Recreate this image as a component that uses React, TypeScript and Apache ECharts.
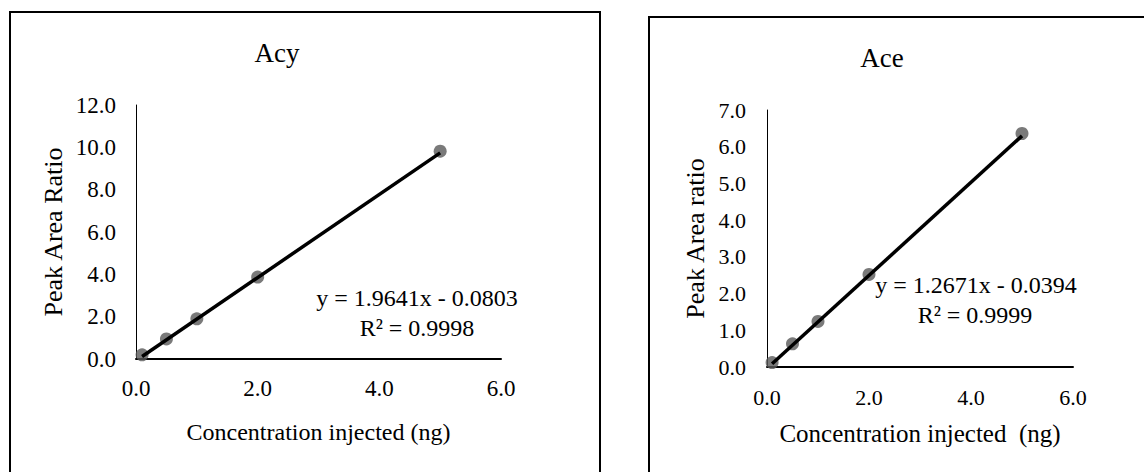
import React, { useEffect, useRef } from "react";
import * as echarts from "echarts";

// Acy calibration
const acyX = [0.1, 0.5, 1.0, 2.0, 5.0];
const acyY = [0.2, 0.95, 1.9, 3.87, 9.82];
const acySlope = 1.9641;
const acyIntercept = -0.0803;
const acyEq = "y = 1.9641x - 0.0803";
const acyR2 = "R² = 0.9998";

// Ace calibration
const aceX = [0.1, 0.5, 1.0, 2.0, 5.0];
const aceY = [0.12, 0.63, 1.24, 2.52, 6.36];
const aceSlope = 1.2671;
const aceIntercept = -0.0394;
const aceEq = "y = 1.2671x - 0.0394";
const aceR2 = "R² = 0.9999";

const FONT = "Liberation Serif, serif";

function trend(xs: number[], m: number, b: number) {
  const x0 = Math.min(...xs);
  const x1 = Math.max(...xs);
  return [
    [x0, m * x0 + b],
    [x1, m * x1 + b],
  ];
}

export default function App() {
  const ref = useRef<HTMLDivElement>(null);
  useEffect(() => {
    if (!ref.current) return;
    const chart = echarts.init(ref.current, null, { renderer: "svg" });
    const axisLabel = (size: number, margin: number) => ({
      fontFamily: FONT,
      fontSize: size,
      color: "#000",
      margin,
      formatter: (v: number) => v.toFixed(1),
    });
    const axName = (gap: number, name: string, size: number) => ({
      name,
      nameLocation: "middle" as const,
      nameGap: gap,
      nameTextStyle: { fontFamily: FONT, fontSize: size, color: "#000" },
    });
    chart.setOption({
      animation: false,
      backgroundColor: "#fff",
      textStyle: { fontFamily: FONT },
      grid: [
        { left: 136, top: 105, width: 365, height: 254 },
        { left: 767, top: 110, width: 306, height: 257 },
      ],
      xAxis: [
        {
          gridIndex: 0,
          type: "value",
          min: 0,
          max: 6,
          interval: 2,
          ...axName(61, "Concentration injected (ng)", 24),
          axisLine: { lineStyle: { color: "#000", width: 2 } },
          axisTick: { show: false },
          splitLine: { show: false },
          axisLabel: axisLabel(23, 18),
        },
        {
          gridIndex: 1,
          type: "value",
          min: 0,
          max: 6,
          interval: 2,
          ...axName(54, "Concentration injected  (ng)", 25),
          axisLine: { lineStyle: { color: "#000", width: 2 } },
          axisTick: { show: false },
          splitLine: { show: false },
          axisLabel: axisLabel(22, 19),
        },
      ],
      yAxis: [
        {
          gridIndex: 0,
          type: "value",
          min: 0,
          max: 12,
          interval: 2,
          ...axName(70, "Peak Area Ratio", 26),
          axisLine: { show: true, lineStyle: { color: "#000", width: 1 } },
          axisTick: { show: false },
          splitLine: { show: false },
          axisLabel: axisLabel(23, 20),
        },
        {
          gridIndex: 1,
          type: "value",
          min: 0,
          max: 7,
          interval: 1,
          ...axName(59, "Peak Area ratio", 26),
          axisLine: { show: true, lineStyle: { color: "#000", width: 1 } },
          axisTick: { show: false },
          splitLine: { show: false },
          axisLabel: axisLabel(22, 21),
        },
      ],
      series: [
        {
          type: "scatter",
          xAxisIndex: 0,
          yAxisIndex: 0,
          data: acyX.map((x, i) => [x, acyY[i]]),
          symbolSize: 13,
          itemStyle: { color: "#595959" },
          z: 2,
        },
        {
          type: "line",
          xAxisIndex: 0,
          yAxisIndex: 0,
          data: trend(acyX, acySlope, acyIntercept),
          showSymbol: false,
          lineStyle: { color: "#000", width: 3.5 },
          z: 3,
        },
        {
          type: "scatter",
          xAxisIndex: 1,
          yAxisIndex: 1,
          data: aceX.map((x, i) => [x, aceY[i]]),
          symbolSize: 13,
          itemStyle: { color: "#595959" },
          z: 2,
        },
        {
          type: "line",
          xAxisIndex: 1,
          yAxisIndex: 1,
          data: trend(aceX, aceSlope, aceIntercept),
          showSymbol: false,
          lineStyle: { color: "#000", width: 3.5 },
          z: 3,
        },
      ],
      graphic: [
        {
          type: "rect",
          shape: { x: 10, y: 12, width: 590, height: 520 },
          style: { fill: "none", stroke: "#000", lineWidth: 2 },
          z: -1,
        },
        {
          type: "rect",
          shape: { x: 649, y: 17, width: 520, height: 520 },
          style: { fill: "none", stroke: "#000", lineWidth: 2 },
          z: -1,
        },
        {
          type: "text",
          x: 277,
          y: 53,
          style: { text: "Acy", fontFamily: FONT, fontSize: 27, fill: "#000", align: "center", verticalAlign: "middle" },
        },
        {
          type: "text",
          x: 882,
          y: 58,
          style: { text: "Ace", fontFamily: FONT, fontSize: 27, fill: "#000", align: "center", verticalAlign: "middle" },
        },
        {
          type: "text",
          x: 417,
          y: 298,
          style: { text: acyEq, fontFamily: FONT, fontSize: 24, fill: "#000", align: "center", verticalAlign: "middle" },
        },
        {
          type: "text",
          x: 417,
          y: 328,
          style: { text: acyR2, fontFamily: FONT, fontSize: 24, fill: "#000", align: "center", verticalAlign: "middle" },
        },
        {
          type: "text",
          x: 976,
          y: 285,
          style: { text: aceEq, fontFamily: FONT, fontSize: 24, fill: "#000", align: "center", verticalAlign: "middle" },
        },
        {
          type: "text",
          x: 975,
          y: 315,
          style: { text: aceR2, fontFamily: FONT, fontSize: 24, fill: "#000", align: "center", verticalAlign: "middle" },
        },
      ],
    });
    return () => chart.dispose();
  }, []);
  return (
    <div
      ref={ref}
      style={{ position: "fixed", left: 0, top: 0, width: 1144, height: 472 }}
    />
  );
}
